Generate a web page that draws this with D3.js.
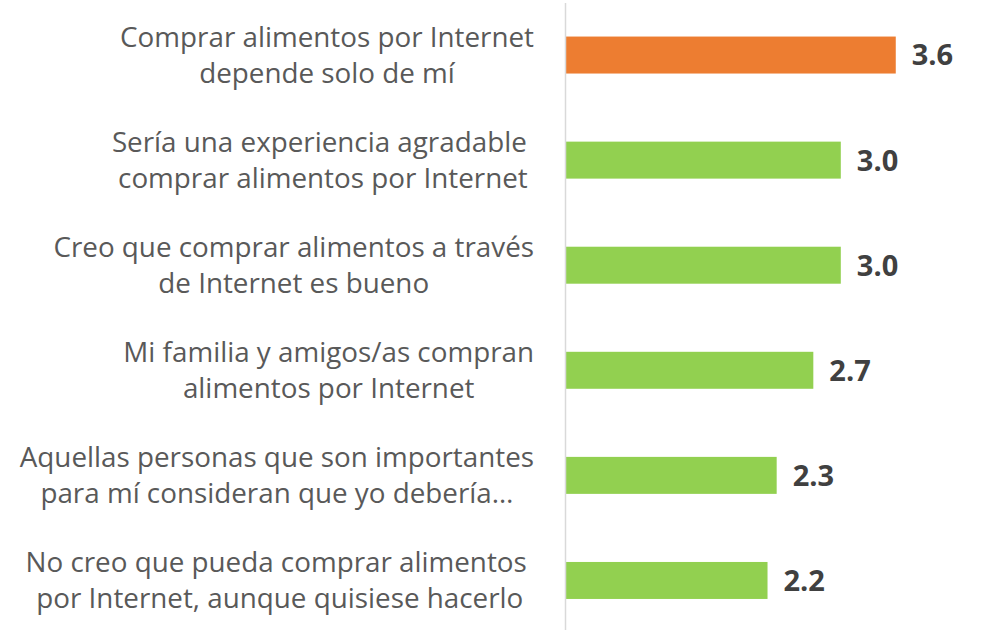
<!DOCTYPE html>
<html>
<head>
<meta charset="utf-8">
<script src="https://cdn.jsdelivr.net/npm/d3@7"></script>
<style>
  html, body { margin: 0; padding: 0; background: #ffffff; }
  svg { display: block; }
</style>
</head>
<body>
<svg id="chart" width="981" height="630"></svg>
<script>
// Statements (each split into its two displayed lines)
const categories = [
  ["Comprar alimentos por Internet", "depende solo de mí"],
  ["Sería una experiencia agradable\u00a0", "comprar alimentos por Internet"],
  ["Creo que comprar alimentos a través", "de Internet es bueno"],
  ["Mi familia y amigos/as compran", "alimentos por Internet"],
  ["Aquellas personas que son importantes", "para mí consideran que yo debería…"],
  ["No creo que pueda comprar alimentos\u00a0", "por Internet, aunque quisiese hacerlo"]
];
// Mean agreement score per statement
const values = [3.6, 3.0, 3.0, 2.7, 2.3, 2.2];
// Highlighted statement drawn in the accent colour
const highlight = [true, false, false, false, false, false];

const svg = d3.select("#chart");
const W = 981, H = 630;

const axisX = 566;
const labelRight = 534;

const x = d3.scaleLinear().domain([0, 3.6]).range([axisX, axisX + 3.6 * 91.6]);
const y = d3.scaleBand()
  .domain(d3.range(categories.length))
  .range([2.5, 633])
  .paddingInner(0.648)
  .paddingOuter(0.324);

const catFont = "'Open Sans', 'Noto Sans', sans-serif";

// Bars
svg.append("g").selectAll("rect")
  .data(values)
  .join("rect")
  .attr("x", x(0))
  .attr("y", (d, i) => y(i))
  .attr("width", d => x(d) - x(0))
  .attr("height", y.bandwidth())
  .attr("fill", (d, i) => highlight[i] ? "#ED7D31" : "#92D050");

// Vertical category axis line
svg.append("line")
  .attr("x1", axisX - 0.5).attr("x2", axisX - 0.5)
  .attr("y1", 3).attr("y2", H)
  .attr("stroke", "#d9d9d9")
  .attr("stroke-width", 1.5);

// Value labels
svg.append("g").selectAll("text")
  .data(values)
  .join("text")
  .attr("x", d => x(d) + 16)
  .attr("y", (d, i) => y(i) + y.bandwidth() / 2)
  .attr("dy", "0.36em")
  .attr("font-family", catFont)
  .attr("font-weight", 700)
  .attr("font-size", 29)
  .attr("fill", "#404040")
  .text(d => d.toFixed(1));

// Category labels: two centred lines, block right-aligned to the axis
const lineGap = 36;
const catG = svg.append("g");
categories.forEach((lines, i) => {
  const cy = y(i) + y.bandwidth() / 2;
  const texts = lines.map((s, j) => catG.append("text")
    .attr("xml:space", "preserve")
    .attr("y", cy + (j - (lines.length - 1) / 2) * lineGap)
    .attr("dy", "0.36em")
    .attr("font-family", catFont)
    .attr("font-size", 27.8)
    .attr("fill", "#595959")
    .attr("text-anchor", "middle")
    .text(s));
  const maxW = d3.max(texts, t => t.node().getComputedTextLength());
  texts.forEach(t => t.attr("x", labelRight - maxW / 2));
});
</script>
</body>
</html>
